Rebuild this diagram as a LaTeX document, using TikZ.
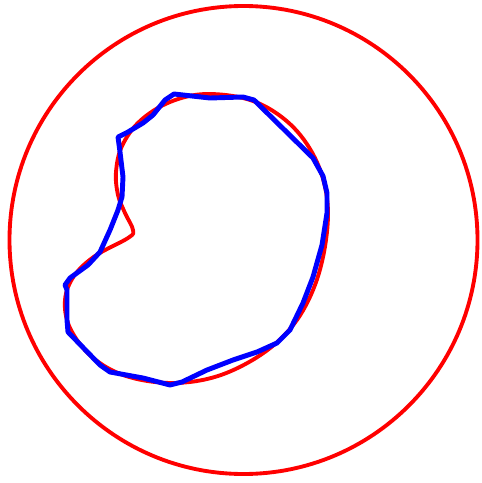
\documentclass[tikz,border=0pt]{standalone}
\begin{document}
\begin{tikzpicture}[x=0.02cm, y=-0.02cm, line join=round,
  outer/.style={red, line width=2.2pt},
  kidney/.style={red, line width=2.2pt},
  approx/.style={blue, line width=2.8pt}]
\useasboundingbox (0,0) rectangle (481,483);
\coordinate (c) at (243.5,240);
% outer boundary
\draw[outer] (c) circle[radius=234];
% smooth inner shape
\draw[kidney] plot[smooth cycle, tension=0.6] coordinates {
  (207,94) (253,101) (290,124) (315,158) (327,198) (326,240) (315,285)
  (294,324) (262,354) (218,376) (172,383) (126,376) (92,357) (70,328)
  (65,300) (74,276) (95,256) (128,238) (133,230) (125,213) (118,195)
  (116,172) (122,146) (140,121) (170,102)};
% polygonal approximation
\draw[approx] (174,94) -- (210,98) -- (243,97) -- (254,100) -- (313,158)
  -- (323,176) -- (327,193) -- (327,213) -- (322,245) -- (313,277)
  -- (303,303) -- (290,330) -- (277,343) -- (257,352) -- (233,360)
  -- (207,370) -- (182,382) -- (170,385) -- (143,378) -- (110,372)
  -- (100,365) -- (68,332) -- (67,320) -- (67,290) -- (65,285)
  -- (70,278) -- (88,265) -- (100,252) -- (110,230) -- (118,210)
  -- (122,197) -- (123,177) -- (120,152) -- (118,137) -- (128,132)
  -- (143,123) -- (153,115) -- (165,100) -- cycle;
\end{tikzpicture}
\end{document}
